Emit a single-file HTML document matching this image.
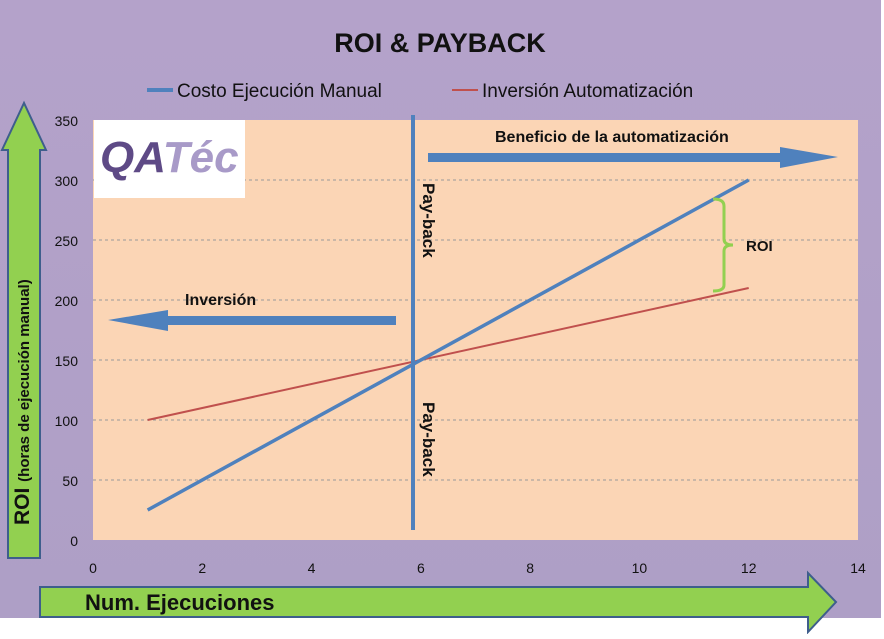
<!DOCTYPE html>
<html><head><meta charset="utf-8"><style>
body{margin:0;width:884px;height:634px;overflow:hidden;background:#fff;font-family:"Liberation Sans","DejaVu Sans",sans-serif}
</style></head><body>
<svg width="884" height="634" xmlns="http://www.w3.org/2000/svg">
<defs><linearGradient id="bg" x1="0" y1="0" x2="0" y2="1"><stop offset="0" stop-color="#b4a2ca"/><stop offset="1" stop-color="#ae9fc6"/></linearGradient></defs>
<rect x="0" y="0" width="881" height="618" fill="url(#bg)"/>
<rect x="93" y="120" width="765" height="420" fill="#fbd5b5"/>
<g id="grid"></g>
<text x="440" y="52" text-anchor="middle" font-size="27" font-weight="bold" fill="#111">ROI &amp; PAYBACK</text>
<g>
<line x1="147" y1="90" x2="173" y2="90" stroke="#4f81bd" stroke-width="4"/>
<text x="177" y="97" font-size="19" fill="#111">Costo Ejecución Manual</text>
<line x1="452" y1="90" x2="478" y2="90" stroke="#c0504d" stroke-width="2"/>
<text x="482" y="97" font-size="19" fill="#111">Inversión Automatización</text>
</g>
<rect x="94" y="120" width="151" height="78" fill="#fff"/>
<text x="100" y="172" font-size="44" font-weight="bold" font-style="italic" fill="#5e4a86">QA<tspan fill="#a89ac8">Téc</tspan></text>
<g id="axes"></g>
<g id="series"></g>
<rect x="411" y="115" width="4" height="415" fill="#4f81bd"/>
<text transform="translate(423,183) rotate(90)" font-size="17" font-weight="bold" fill="#111">Pay-back</text>
<text transform="translate(423,402) rotate(90)" font-size="17" font-weight="bold" fill="#111">Pay-back</text>
<polygon points="428,153 780,153 780,147 838,157 780,168 780,162 428,162" fill="#4f81bd"/>
<text x="495" y="142" font-size="16" font-weight="bold" fill="#111">Beneficio de la automatización</text>
<polygon points="396,316 168,316 168,310 108,320 168,331 168,325 396,325" fill="#4f81bd"/>
<text x="185" y="305" font-size="16" font-weight="bold" fill="#111">Inversión</text>
<path d="M713,199 Q724,199 724,206 L724,239 Q724,245 733,245 Q724,245 724,251 L724,285 Q724,291 713,291" fill="none" stroke="#92d050" stroke-width="3"/>
<text x="746" y="251" font-size="15" font-weight="bold" fill="#111">ROI</text>
<polygon points="6,558 6,150 0,150 0,150 22,103 44,150 38,150 38,558" fill="#92d050" stroke="#3e5e8c" stroke-width="2" transform="translate(2,0)"/>
<text transform="translate(29,525) rotate(-90)" font-size="21" font-weight="bold" fill="#111">ROI <tspan font-size="15">(horas de ejecución manual)</tspan></text>
<polygon points="40,587 808,587 808,573 836,602 808,632 808,617 40,617" fill="#92d050" stroke="#3e5e8c" stroke-width="2"/>
<text x="85" y="610" font-size="22" font-weight="bold" fill="#111">Num. Ejecuciones</text>
</svg>
<script>
const xTicks=[0,2,4,6,8,10,12,14];
const yTicks=[0,50,100,150,200,250,300,350];
const execs=[1,12];
const manualCost=[25,300];
const autoInvest=[100,210];
const X=v=>93+v*(765/14), Y=v=>540-v*1.2;
const NS="http://www.w3.org/2000/svg";
function mk(t,a,p){const e=document.createElementNS(NS,t);for(const k in a)e.setAttribute(k,a[k]);p.appendChild(e);return e;}
const grid=document.getElementById('grid'),axes=document.getElementById('axes'),ser=document.getElementById('series');
yTicks.forEach(v=>{
 if(v>0&&v<350){const l=mk('line',{x1:93,x2:858,y1:Y(v),y2:Y(v),stroke:'#999','stroke-width':1,'stroke-dasharray':'3,3'},grid);
 
 }
 const t=mk('text',{x:78,y:Y(v)+6,'text-anchor':'end','font-size':14,fill:'#111'},axes);t.textContent=v;
 
 
});
xTicks.forEach(v=>{
 const t=mk('text',{x:X(v),y:573,'text-anchor':'middle','font-size':14,fill:'#111'},axes);t.textContent=v;
 
 
});
function line(vals,col,w,name){
 const pts=execs.map((e,i)=>X(e)+','+Y(vals[i])).join(' ');
 const l=mk('polyline',{points:pts,fill:'none',stroke:col,'stroke-width':w},ser);
 
 
}
line(autoInvest,'#c0504d',2,'automation-investment-line');
line(manualCost,'#4f81bd',3.5,'manual-cost-line');
</script>
</body></html>
